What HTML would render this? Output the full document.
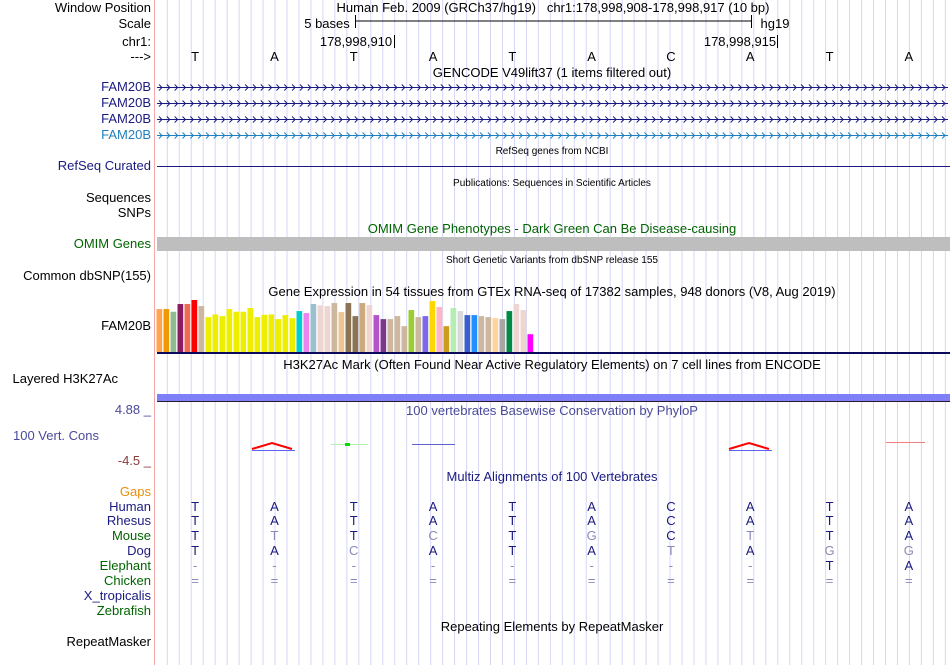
<!DOCTYPE html>
<html><head><meta charset="utf-8">
<style>
body{margin:0;background:#fff;}
#root{position:relative;width:950px;height:665px;overflow:hidden;font-family:"Liberation Sans",sans-serif;font-size:13px;}
.lb{position:absolute;right:799px;white-space:nowrap;text-align:right;line-height:14px;}
.t{position:absolute;white-space:nowrap;line-height:14px;transform:translateX(-50%);}
svg{position:absolute;left:0;top:0;}
</style></head>
<body>
<div id="root">
<svg id="sv" width="950" height="665"></svg>

<div class="lb" style="top:1px">Window Position</div>
<div class="lb" style="top:17px">Scale</div>
<div class="lb" style="top:35px">chr1:</div>
<div class="lb" style="top:50px">---&gt;</div>
<div class="lb" style="top:80px;color:#1a1a80">FAM20B</div>
<div class="lb" style="top:96px;color:#1a1a80">FAM20B</div>
<div class="lb" style="top:112px;color:#1a1a80">FAM20B</div>
<div class="lb" style="top:128px;color:#1f7fbf">FAM20B</div>
<div class="lb" style="top:159px;color:#1a1a80">RefSeq Curated</div>
<div class="lb" style="top:191px">Sequences</div>
<div class="lb" style="top:206px">SNPs</div>
<div class="lb" style="top:237px;color:#006400">OMIM Genes</div>
<div class="lb" style="top:269px">Common dbSNP(155)</div>
<div class="lb" style="top:319px">FAM20B</div>
<div class="lb" style="top:372px;right:832px">Layered H3K27Ac</div>
<div class="lb" style="top:403px;color:#4a4a9a">4.88 _</div>
<div class="lb" style="top:429px;right:851px;color:#4a4a9a">100 Vert. Cons</div>
<div class="lb" style="top:454px;color:#8b3a3a">-4.5 _</div>
<div class="lb" style="top:485px;color:#e8900a">Gaps</div>
<div class="lb" style="top:500px;color:#1a1a80">Human</div>
<div class="lb" style="top:514px;color:#1a1a80">Rhesus</div>
<div class="lb" style="top:529px;color:#006400">Mouse</div>
<div class="lb" style="top:544px;color:#1a1a80">Dog</div>
<div class="lb" style="top:559px;color:#006400">Elephant</div>
<div class="lb" style="top:574px;color:#006400">Chicken</div>
<div class="lb" style="top:589px;color:#1a1a80">X_tropicalis</div>
<div class="lb" style="top:604px;color:#006400">Zebrafish</div>
<div class="lb" style="top:635px">RepeatMasker</div>

<div class="t" style="left:553px;top:1px">Human Feb. 2009 (GRCh37/hg19) &nbsp; chr1:178,998,908-178,998,917 (10 bp)</div>
<div class="t" style="left:327px;top:17px">5 bases</div>
<div class="t" style="left:775px;top:17px">hg19</div>
<div class="t" style="left:356px;top:35px">178,998,910</div>
<div class="t" style="left:740px;top:35px">178,998,915</div>
<div class="t" style="left:552px;top:66px">GENCODE V49lift37 (1 items filtered out)</div>
<div class="t" style="left:552px;top:145px;font-size:10px">RefSeq genes from NCBI</div>
<div class="t" style="left:552px;top:177px;font-size:10px">Publications: Sequences in Scientific Articles</div>
<div class="t" style="left:552px;top:222px;color:#006400">OMIM Gene Phenotypes - Dark Green Can Be Disease-causing</div>
<div class="t" style="left:552px;top:254px;font-size:10px">Short Genetic Variants from dbSNP release 155</div>
<div class="t" style="left:552px;top:285px">Gene Expression in 54 tissues from GTEx RNA-seq of 17382 samples, 948 donors (V8, Aug 2019)</div>
<div class="t" style="left:552px;top:358px">H3K27Ac Mark (Often Found Near Active Regulatory Elements) on 7 cell lines from ENCODE</div>
<div class="t" style="left:552px;top:404px;color:#4a4a9a">100 vertebrates Basewise Conservation by PhyloP</div>
<div class="t" style="left:552px;top:470px;color:#1a1a80">Multiz Alignments of 100 Vertebrates</div>
<div class="t" style="left:552px;top:620px">Repeating Elements by RepeatMasker</div>
<div id="bases"></div>
</div>
<script>
const bases = ["T","A","T","A","T","A","C","A","T","A"];
const alnSpecies = ["Human","Rhesus","Mouse","Dog","Elephant","Chicken"];
const alnRows = ["TATATACATA","TATATACATA","TTTCTGCTTA","TACATATAGG","--------TA","=========="];
const gtexValues = [128,128,120,143,143,155,137,104,112,107,128,120,120,131,104,111,112,98,110,101,122,116,143,139,137,146,119,146,107,146,140,110,98,98,107,77,125,104,107,152,134,77,131,122,110,110,107,104,101,98,122,143,125,53];
const gtexColors = ["#FFA54F","#EE9A00","#8FBC8F","#8B1C62","#EE6A50","#FF0000","#CDB79E","#EEEE00","#EEEE00","#EEEE00","#EEEE00","#EEEE00","#EEEE00","#EEEE00","#EEEE00","#EEEE00","#EEEE00","#EEEE00","#EEEE00","#EEEE00","#00CDCD","#EE82EE","#9AC0CD","#EED5D2","#EED5D2","#CDB79E","#EEC591","#8B7355","#8B7355","#CDAA7D","#EED5D2","#B452CD","#7A378B","#CDB79E","#CDB79E","#CDB79E","#9ACD32","#CDB79E","#7B68EE","#FFD700","#FFB6C1","#CD9B1D","#B4EEB4","#D9D9D9","#3A5FCD","#1E90FF","#CDB79E","#CDB79E","#FFD39B","#A6A6A6","#008B45","#EED5D2","#EED5D2","#FF00FF"];

const NS="http://www.w3.org/2000/svg";
const sv=document.getElementById('sv');
function mk(tag,attrs){const e=document.createElementNS(NS,tag);for(const k in attrs)e.setAttribute(k,attrs[k]);sv.appendChild(e);return e;}
const X0=155.5,BW=79.3;
const bx=i=>X0+(i+0.5)*BW;
for(let x=167.3;x<950;x+=11.97){const l=mk('line',{x1:x,x2:x,y1:0,y2:665,stroke:'#d6d6f4','stroke-width':1});

}
let e=mk('line',{x1:154.5,x2:154.5,y1:0,y2:665,stroke:'#f4a8a8','stroke-width':1});

mk('line',{x1:355,x2:751,y1:21,y2:21,stroke:'#000'});
mk('line',{x1:355.5,x2:355.5,y1:15,y2:28,stroke:'#000'});
mk('line',{x1:751.5,x2:751.5,y1:15,y2:28,stroke:'#000'});
mk('line',{x1:394.5,x2:394.5,y1:35,y2:48,stroke:'#000'});
mk('line',{x1:777.5,x2:777.5,y1:35,y2:48,stroke:'#000'});
const bd=document.getElementById('bases');
bases.forEach((b,i)=>{const d=document.createElement('div');d.className='t';d.style.left=bx(i)+'px';d.style.top='50px';d.textContent=b;


bd.appendChild(d);});
[[87,'#1a1a80'],[103,'#1a1a80'],[119,'#1a1a80'],[135,'#1f7fbf']].forEach(([y,c])=>{
 const g=mk('g',{stroke:c,fill:'none','stroke-width':1});
 
 
 const ln=document.createElementNS(NS,'line');ln.setAttribute('x1',157);ln.setAttribute('x2',948);ln.setAttribute('y1',y+.5);ln.setAttribute('y2',y+.5);g.appendChild(ln);
 let p='';for(let x=159;x<946;x+=7.83){p+=`M${x} ${y-2.5}L${x+3} ${y+.5}L${x} ${y+3.5}`;}
 const pa=document.createElementNS(NS,'path');pa.setAttribute('d',p);g.appendChild(pa);
});
e=mk('line',{x1:157,x2:950,y1:166.5,y2:166.5,stroke:'#1a1a80'});

e=mk('rect',{x:157,y:237,width:793,height:14,fill:'#bebebe'});

const base=352,maxH=52,maxV=Math.max(...gtexValues);
gtexValues.forEach((v,i)=>{const h=v/maxV*maxH;
 const r=mk('rect',{x:156.5+i*7,y:base-h,width:5.7,height:h,fill:gtexColors[i]});
 
 });
e=mk('line',{x1:157,x2:950,y1:353,y2:353,stroke:'#0a0a5a','stroke-width':2});

e=mk('rect',{x:157,y:394,width:793,height:7,fill:'#7f7ff8'});

mk('line',{x1:157,x2:950,y1:401.5,y2:401.5,stroke:'#2a1a2a'});
function arch(x1,x2){mk('line',{x1:x1,x2:x2+3,y1:450.5,y2:450.5,stroke:'#6060ee'});
 mk('path',{d:`M${x1} 449 L${(x1+x2)/2} 443 L${x2} 449`,stroke:'#ff0000',fill:'none','stroke-width':2});}
arch(252,292);arch(729,769);
mk('line',{x1:331,x2:368,y1:444.5,y2:444.5,stroke:'#b0f0b0'});
mk('rect',{x:345,y:443,width:5,height:3,fill:'#00e000'});
mk('line',{x1:412,x2:455,y1:444.5,y2:444.5,stroke:'#6060cc'});
mk('line',{x1:886,x2:925,y1:442.5,y2:442.5,stroke:'#f08080'});
const rowY=[500,514,529,544,559,574];
alnRows.forEach((row,r)=>{[...row].forEach((ch,i)=>{
 const d=document.createElement('div');d.className='t';d.style.left=bx(i)+'px';d.style.top=rowY[r]+'px';d.textContent=ch;
 const match = r<2 ? true : (ch===alnRows[0][i] && ch!=='-' && ch!=='=');
 d.style.color = match ? '#1a1a80' : '#8a8ab8';
 
 
 bd.appendChild(d);});});
</script>
</body></html>
